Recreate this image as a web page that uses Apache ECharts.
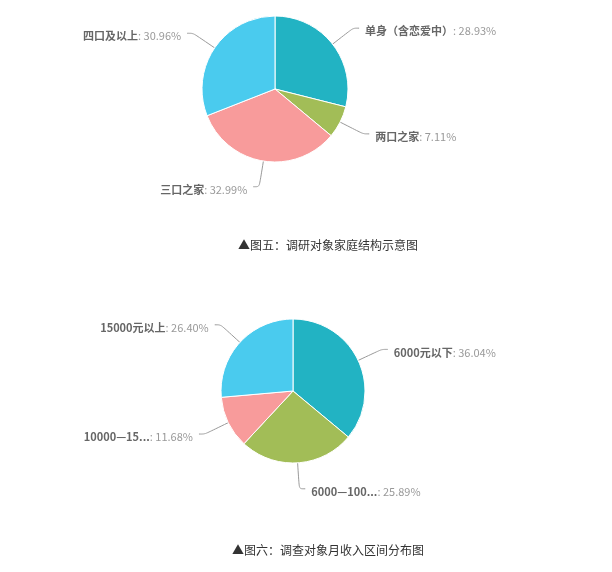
<!DOCTYPE html>
<html><head><meta charset="utf-8">
<script src="https://cdn.jsdelivr.net/npm/echarts@6/dist/echarts.min.js"></script>
<style>html,body{margin:0;padding:0;background:#fff}#c{width:612px;height:572px}</style>
</head><body><div id="c"></div>
<script>
var familyNames = ['单身（含恋爱中）', '两口之家', '三口之家', '四口及以上'];
var familyValues = [28.93, 7.11, 32.99, 30.96];
var incomeNames = ['6000元以下', '6000—10000元', '10000—15000元', '15000元以上'];
var incomeValues = [36.04, 25.89, 11.68, 26.40];
var captions = ['▲图五：调研对象家庭结构示意图', '▲图六：调查对象月收入区间分布图'];
var colors = ['#22b3c3', '#a2bd57', '#f89b9b', '#4acbee'];

function toData(names, values) {
  return names.map(function (n, i) { return { name: n, value: values[i] }; });
}
function shortName(n) { return n.length > 9 ? n.slice(0, 8) + '...' : n; }

var labelCfg = {
  show: true,
  fontFamily: 'Noto Sans CJK SC',
  padding: [6, 0, 0, 0],
  distanceToLabelLine: 6,
  formatter: function (p) {
    return '{n|' + shortName(p.name) + '}{v|: ' + p.value.toFixed(2) + '%}';
  },
  rich: {
    n: { fontSize: 11, fontWeight: 'bold', color: '#666', fontFamily: 'Noto Sans CJK SC' },
    v: { fontSize: 11, color: '#999', fontFamily: 'Noto Sans CJK SC' }
  }
};
var lineCfg = { show: true, length: 26, length2: 6, smooth: 0.3, lineStyle: { color: '#999', width: 1 } };

var chart = echarts.init(document.getElementById('c'));
chart.setOption({
  animation: false,
  color: colors,
  title: [
    { text: captions[0], left: 323, top: 234, textAlign: 'center',
      textStyle: { fontSize: 12, fontWeight: 'normal', color: '#333', fontFamily: 'Noto Sans CJK SC' } },
    { text: captions[1], left: 323, top: 539, textAlign: 'center',
      textStyle: { fontSize: 12, fontWeight: 'normal', color: '#333', fontFamily: 'Noto Sans CJK SC' } }
  ],
  series: [
    {
      type: 'pie', center: [275, 89], radius: 73, startAngle: 90, clockwise: true,
      itemStyle: { borderColor: '#fff', borderWidth: 1 },
      label: labelCfg, labelLine: lineCfg,
      data: toData(familyNames, familyValues)
    },
    {
      type: 'pie', center: [293, 391], radius: 72, startAngle: 90, clockwise: true,
      itemStyle: { borderColor: '#fff', borderWidth: 1 },
      label: labelCfg, labelLine: lineCfg,
      data: toData(incomeNames, incomeValues)
    }
  ]
});
</script></body></html>
